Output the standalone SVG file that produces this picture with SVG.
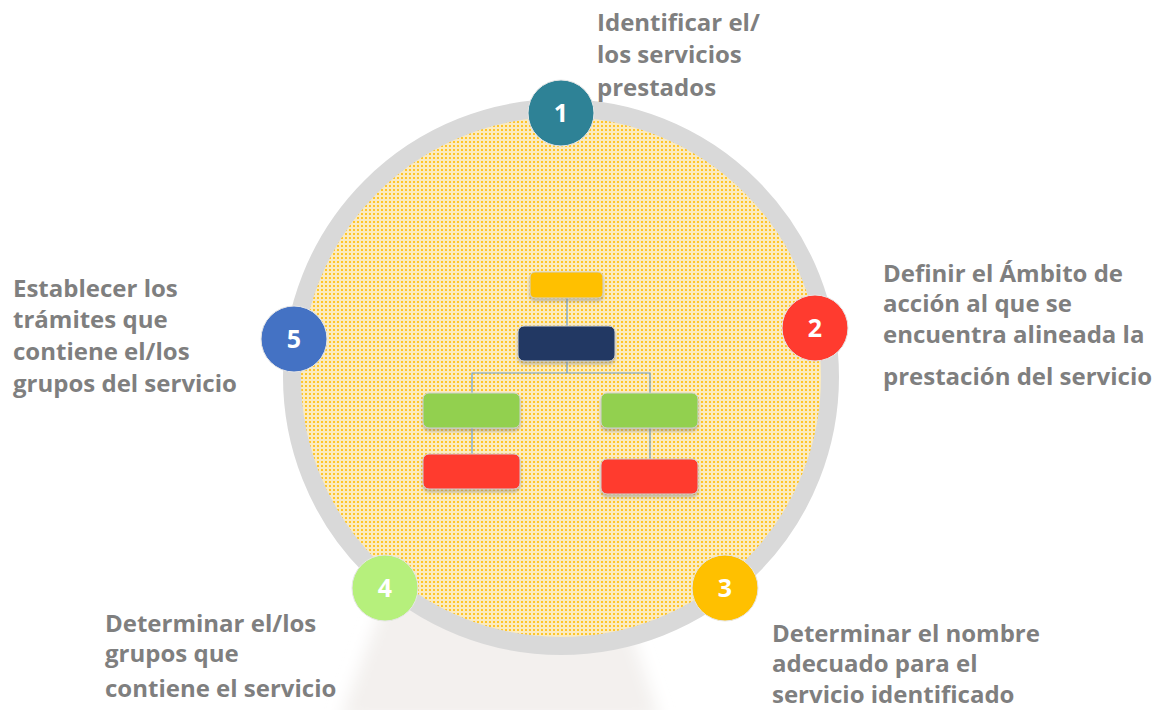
<svg xmlns="http://www.w3.org/2000/svg" width="1165" height="710" viewBox="0 0 1165 710">
  <defs>
    <pattern id="dots" patternUnits="userSpaceOnUse" width="4" height="4">
      <rect width="4" height="4" fill="#FBEBC0"/>
      <rect x="1" y="1" width="2" height="2" fill="#FFC52A"/>
    </pattern>
    <filter id="shadow" x="-20%" y="-30%" width="140%" height="170%">
      <feDropShadow dx="0" dy="3" stdDeviation="1.5" flood-color="#7f7f7f" flood-opacity="0.45"/>
    </filter>
    <filter id="soft" x="-20%" y="-20%" width="140%" height="140%">
      <feGaussianBlur stdDeviation="8"/>
    </filter>
  </defs>
  <style>
    .lbl { font-family: "Open Sans", "Liberation Sans", sans-serif; font-weight: bold; font-size: 24px; fill: #7F7F7F; }
    .num { font-family: "Open Sans", "Liberation Sans", sans-serif; font-weight: bold; font-size: 25px; fill: #FFFFFF; text-anchor: middle; }
    .badge { stroke: #E6E6E6; stroke-width: 1; }
    .box { stroke: #D0D0D0; stroke-width: 1; filter: url(#shadow); }
    .conn { stroke: #6FA0D0; stroke-width: 1.2; fill: none; }
  </style>
  <rect width="1165" height="710" fill="#FFFFFF"/>
  <!-- faint reflection -->
  <polygon points="385,600 620,600 660,720 340,720" fill="#F3F0EE" filter="url(#soft)"/>
  <!-- main ring -->
  <g id="ring">
    <circle cx="561" cy="377" r="269" fill="url(#dots)" stroke="#D9D9D9" stroke-width="18"/>
  </g>
  <!-- connectors -->
  <g id="connectors">
    <line class="conn" x1="567" y1="298" x2="567" y2="326"/>
    <line class="conn" x1="567" y1="361" x2="567" y2="373"/>
    <polyline class="conn" points="472,393 472,373 650,373 650,393"/>
    <line class="conn" x1="472" y1="428" x2="472" y2="454"/>
    <line class="conn" x1="650" y1="428" x2="650" y2="459"/>
  </g>
  <!-- org chart boxes -->
  <g id="box-top"><rect class="box" x="530" y="272" width="73" height="26" rx="5" fill="#FFC000"/></g>
  <g id="box-navy"><rect class="box" x="518" y="326" width="97" height="35" rx="6" fill="#203864"/></g>
  <g id="box-green-left"><rect class="box" x="423" y="393" width="97" height="35" rx="6" fill="#92D050"/></g>
  <g id="box-green-right"><rect class="box" x="601" y="393" width="97" height="35" rx="6" fill="#92D050"/></g>
  <g id="box-red-left"><rect class="box" x="423" y="454" width="97" height="35" rx="6" fill="#FF3B2F"/></g>
  <g id="box-red-right"><rect class="box" x="601" y="459" width="97" height="35" rx="6" fill="#FF3B2F"/></g>
  <!-- numbered badges -->
  <g id="step1">
    <circle class="badge" cx="561" cy="113" r="33" fill="#2E8296"/>
    <text class="num" x="561" y="122">1</text>
  </g>
  <g id="step2">
    <circle class="badge" cx="815" cy="328" r="33" fill="#FF3B2F"/>
    <text class="num" x="815" y="337">2</text>
  </g>
  <g id="step3">
    <circle class="badge" cx="725" cy="588" r="33" fill="#FFC000"/>
    <text class="num" x="725" y="597">3</text>
  </g>
  <g id="step4">
    <circle class="badge" cx="385" cy="588" r="33" fill="#B6F07C"/>
    <text class="num" x="385" y="597">4</text>
  </g>
  <g id="step5">
    <circle class="badge" cx="294" cy="339" r="33" fill="#4472C4"/>
    <text class="num" x="294" y="348">5</text>
  </g>
  <!-- labels -->
  <g id="label1">
    <text class="lbl" x="597" y="31">Identificar el/</text>
    <text class="lbl" x="597" y="63">los servicios</text>
    <text class="lbl" x="597" y="96">prestados</text>
  </g>
  <g id="label2">
    <text class="lbl" x="883" y="282">Definir el Ámbito de</text>
    <text class="lbl" x="883" y="312">acción al que se</text>
    <text class="lbl" x="883" y="343">encuentra alineada la</text>
    <text class="lbl" x="883" y="385">prestación del servicio</text>
  </g>
  <g id="label3">
    <text class="lbl" x="772" y="642">Determinar el nombre</text>
    <text class="lbl" x="772" y="672">adecuado para el</text>
    <text class="lbl" x="772" y="703">servicio identificado</text>
  </g>
  <g id="label4">
    <text class="lbl" x="105" y="632">Determinar el/los</text>
    <text class="lbl" x="105" y="662">grupos que</text>
    <text class="lbl" x="105" y="697">contiene el servicio</text>
  </g>
  <g id="label5">
    <text class="lbl" x="13" y="297">Establecer los</text>
    <text class="lbl" x="13" y="328">trámites que</text>
    <text class="lbl" x="13" y="360">contiene el/los</text>
    <text class="lbl" x="13" y="392">grupos del servicio</text>
  </g>
</svg>
